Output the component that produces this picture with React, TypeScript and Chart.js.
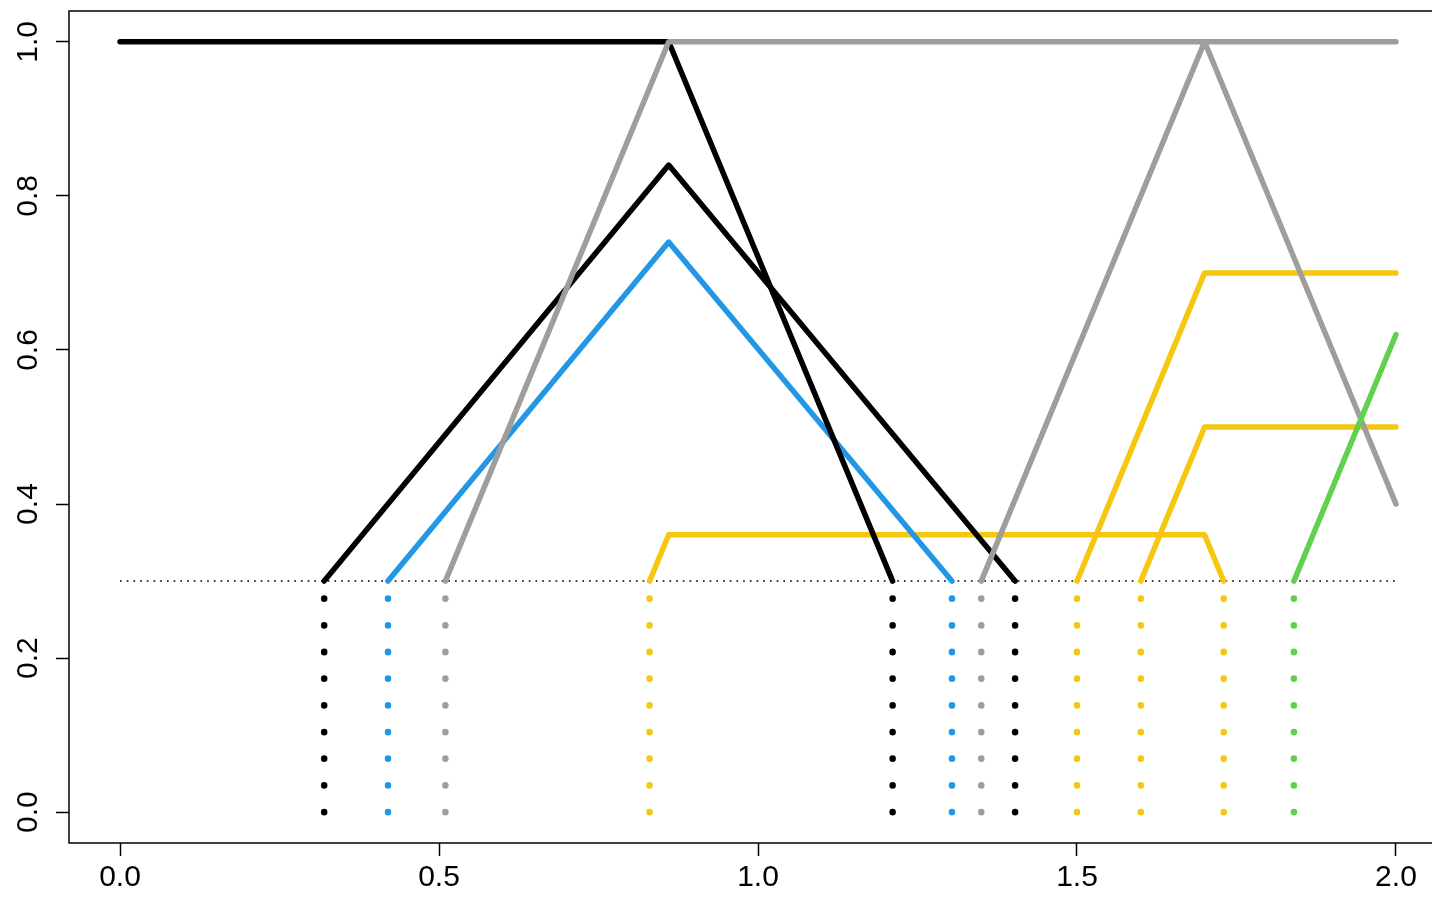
import React, { useEffect, useRef } from "react";
import { Chart, registerables } from "chart.js";

Chart.register(...registerables);

// Membership curves (x positions and heights of each polyline)
const blackPlateauX = [0, 0.86, 1.211];
const blackPlateauY = [1, 1, 0.3];
const blackPeakX = [0.32, 0.86, 1.403];
const blackPeakY = [0.3, 0.84, 0.3];
const bluePeakX = [0.42, 0.86, 1.304];
const bluePeakY = [0.3, 0.74, 0.3];
const grayRiseX = [0.51, 0.86, 2.0];
const grayRiseY = [0.3, 1, 1];
const grayPeakX = [1.35, 1.7, 2.0];
const grayPeakY = [0.3, 1, 0.4];
const yellowLowX = [0.83, 0.86, 1.7, 1.73];
const yellowLowY = [0.3, 0.36, 0.36, 0.3];
const yellowHighX = [1.5, 1.7, 2.0];
const yellowHighY = [0.3, 0.7, 0.7];
const yellowMidX = [1.6, 1.7, 2.0];
const yellowMidY = [0.3, 0.5, 0.5];
const greenRiseX = [1.84, 2.0];
const greenRiseY = [0.3, 0.62];

// Cut level and the drop lines from each crossing down to zero
const cutLevel = 0.3;
const cutRange = [0, 2];
const dropX = [0.32, 0.42, 0.51, 0.83, 1.211, 1.304, 1.35, 1.403, 1.5, 1.6, 1.73, 1.84];
const dropColor = [
  "black", "blue", "gray", "yellow", "black", "blue",
  "gray", "black", "yellow", "yellow", "yellow", "green",
];

// Axis ticks
const xTicks = [0, 0.5, 1.0, 1.5, 2.0];
const yTicks = [0, 0.2, 0.4, 0.6, 0.8, 1.0];

const palette: Record<string, string> = {
  black: "#000000",
  blue: "#2297E6",
  gray: "#9E9E9E",
  yellow: "#F5C710",
  green: "#61D04F",
};

const FONT = "'Liberation Sans', Arial, Helvetica, sans-serif";

const toPoints = (xs: number[], ys: number[]) => xs.map((x, i) => ({ x, y: ys[i] }));

const curve = (xs: number[], ys: number[], color: string, order: number) => ({
  type: "line" as const,
  data: toPoints(xs, ys),
  borderColor: palette[color],
  borderWidth: 5.5,
  borderCapStyle: "round" as const,
  borderJoinStyle: "round" as const,
  pointRadius: 0,
  tension: 0,
  fill: false,
  order,
});

const framePlugin = {
  id: "frame",
  beforeDatasetsDraw(chart: any) {
    const { ctx, chartArea } = chart;
    ctx.save();
    ctx.strokeStyle = "#000";
    ctx.lineWidth = 1.5;
    ctx.strokeRect(chartArea.left, chartArea.top, chartArea.right - chartArea.left, chartArea.bottom - chartArea.top);
    ctx.restore();
  },
};

const yLabelPlugin = {
  id: "yLabels",
  afterDraw(chart: any) {
    const { ctx } = chart;
    const scale = chart.scales.y;
    ctx.save();
    ctx.fillStyle = "#000";
    ctx.font = `30px ${FONT}`;
    ctx.textAlign = "center";
    ctx.textBaseline = "middle";
    yTicks.forEach((v) => {
      const py = scale.getPixelForValue(v);
      ctx.save();
      ctx.translate(29, py);
      ctx.rotate(-Math.PI / 2);
      ctx.fillText(v.toFixed(1), 0, 0);
      ctx.restore();
    });
    ctx.restore();
  },
};

export default function App() {
  const canvasRef = useRef<HTMLCanvasElement | null>(null);

  useEffect(() => {
    if (!canvasRef.current) return;

    const datasets: any[] = [
      curve(greenRiseX, greenRiseY, "green", 1),
      curve(grayRiseX, grayRiseY, "gray", 2),
      curve(grayPeakX, grayPeakY, "gray", 3),
      curve(blackPlateauX, blackPlateauY, "black", 4),
      curve(blackPeakX, blackPeakY, "black", 5),
      curve(bluePeakX, bluePeakY, "blue", 6),
      curve(yellowLowX, yellowLowY, "yellow", 7),
      curve(yellowHighX, yellowHighY, "yellow", 8),
      curve(yellowMidX, yellowMidY, "yellow", 9),
      {
        type: "line",
        data: cutRange.map((x) => ({ x, y: cutLevel })),
        borderColor: "#000",
        borderWidth: 1.5,
        borderDash: [1.7, 5],
        borderCapStyle: "butt",
        pointRadius: 0,
        fill: false,
        order: 20,
      },
      ...dropX.map((x, i) => ({
        type: "line",
        data: [
          { x, y: 0 },
          { x, y: cutLevel },
        ],
        borderColor: palette[dropColor[i]],
        borderWidth: 6.5,
        borderDash: [0.3, 26.37],
        borderCapStyle: "round",
        pointRadius: 0,
        fill: false,
        order: 30 + i,
      })),
    ];

    const chart = new Chart(canvasRef.current, {
      type: "line",
      data: { datasets },
      options: {
        animation: false,
        responsive: false,
        devicePixelRatio: 1,
        layout: { padding: { left: 0, right: 13, top: 11, bottom: 0 } },
        plugins: {
          legend: { display: false },
          tooltip: { enabled: false },
        },
        scales: {
          x: {
            type: "linear",
            min: -0.08,
            max: 2.08,
            afterBuildTicks: (scale: any) => {
              scale.ticks = xTicks.map((value) => ({ value }));
            },
            afterFit: (scale: any) => {
              scale.height = 54;
            },
            border: { display: false },
            grid: {
              drawOnChartArea: false,
              drawTicks: true,
              tickLength: 13,
              tickColor: "#000",
              tickWidth: 1.5,
            },
            ticks: {
              color: "#000",
              padding: 4,
              maxRotation: 0,
              autoSkip: false,
              font: { family: FONT, size: 30 },
              callback: (v: any) => Number(v).toFixed(1),
            },
          },
          y: {
            type: "linear",
            min: -0.04,
            max: 1.04,
            afterBuildTicks: (scale: any) => {
              scale.ticks = yTicks.map((value) => ({ value }));
            },
            afterFit: (scale: any) => {
              scale.width = 69;
            },
            border: { display: false },
            grid: {
              drawOnChartArea: false,
              drawTicks: true,
              tickLength: 13,
              tickColor: "#000",
              tickWidth: 1.5,
            },
            ticks: { display: false },
          },
        },
      },
      plugins: [framePlugin, yLabelPlugin],
    });

    return () => chart.destroy();
  }, []);

  return (
    <div
      style={{
        position: "fixed",
        left: 0,
        top: 0,
        width: 1432,
        height: 897,
        overflow: "hidden",
        background: "#fff",
      }}
    >
      <canvas ref={canvasRef} width={1460} height={897} style={{ display: "block" }} />
    </div>
  );
}
